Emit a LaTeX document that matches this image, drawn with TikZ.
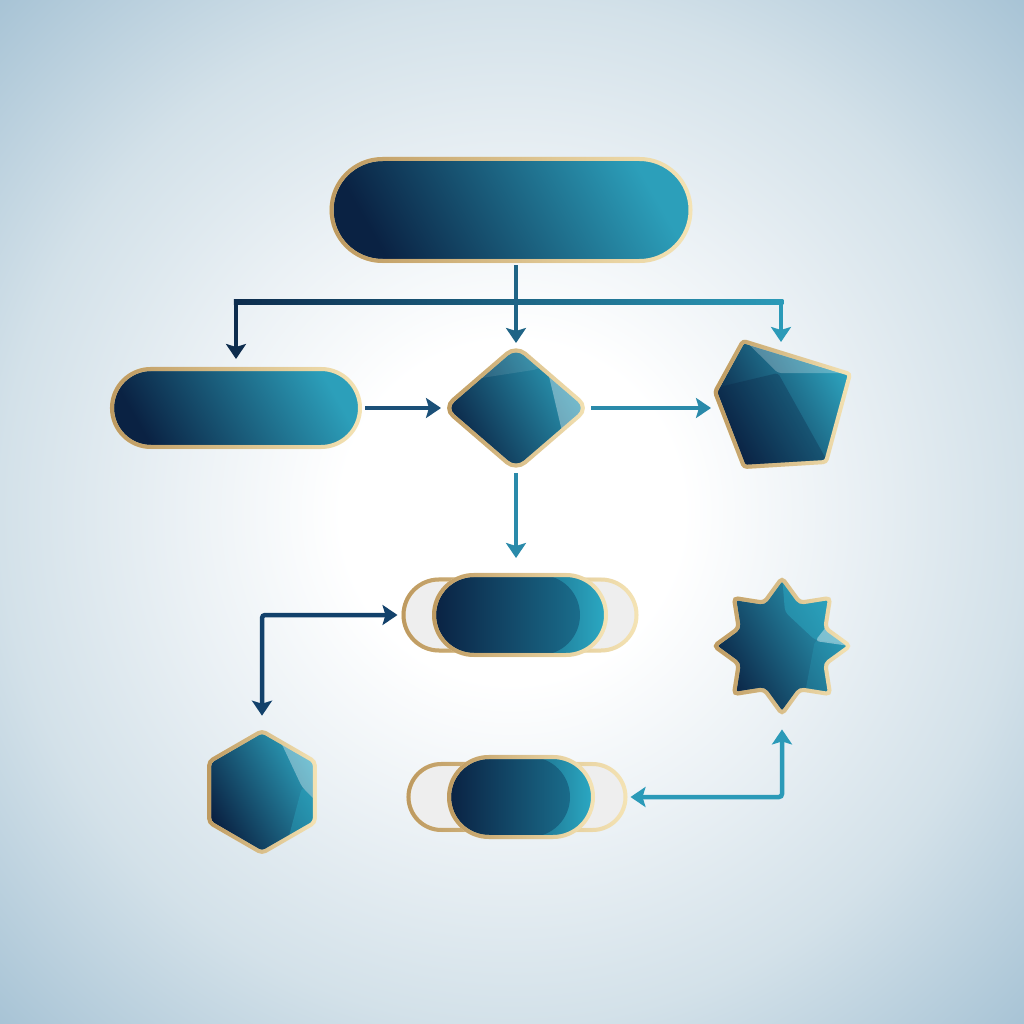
\documentclass[tikz,border=0pt]{standalone}
\usetikzlibrary{shapes.misc,shapes.geometric,arrows.meta,fadings,calc}

\definecolor{navyDeep}{HTML}{0A2243}
\definecolor{tealLight}{HTML}{2C9FBA}
\definecolor{tealBright}{HTML}{2BA9C3}
\definecolor{tealMid}{HTML}{1D7A98}
\definecolor{rimDark}{HTML}{BE9A60}
\definecolor{rimLight}{HTML}{F5E4B5}
\definecolor{pillGrey}{HTML}{EEEEEE}
\definecolor{arrNavy}{HTML}{0D2C4D}
\definecolor{arrDeep}{HTML}{12416B}
\definecolor{arrSteel}{HTML}{1B5078}
\definecolor{arrMid}{HTML}{1F6486}
\definecolor{arrTeal}{HTML}{2A8AAA}
\definecolor{arrAqua}{HTML}{2B9AB8}
\definecolor{bgSoft}{HTML}{EBF1F5}
\definecolor{bgEdge}{HTML}{D3E1E9}
\definecolor{bgCorner}{HTML}{A7C3D5}

\pgfdeclareradialshading{backdropShade}{\pgfpoint{0bp}{0bp}}{color(0bp)=(white); color(170bp)=(white); color(330bp)=(bgSoft); color(510bp)=(bgEdge); color(725bp)=(bgCorner)}

\tikzset{
  rim/.style={draw=rimLight, line width=4pt, postaction={draw=rimDark, line width=4pt, path fading=east}},
  body/.style={rim, left color=navyDeep, right color=tealLight, shading angle=120},
  pill/.style 2 args={rounded rectangle, minimum width=#1, minimum height=#2, inner sep=0pt},
  backpill/.style={rim, fill=pillGrey},
  capped/.style={path picture={\shade[left color=navyDeep, right color=tealMid, rounded corners=40pt] (path picture bounding box.south west) rectangle ([xshift=-#1]path picture bounding box.north east);}},
  facet/.style={fill=white, fill opacity=#1},
  arr/.style={line width=4.5pt, -{Stealth[length=15pt,width=20pt,inset=3pt]}},
  twin/.style={line width=4.5pt, rounded corners=3pt, {Stealth[length=15pt,width=20pt,inset=3pt]}-{Stealth[length=15pt,width=20pt,inset=3pt]}},
}

\begin{document}
\begin{tikzpicture}[x=1pt, y=-1pt]
% backdrop
\useasboundingbox (0,0) rectangle (1024,1024);
\begin{scope}
  \clip (0,0) rectangle (1024,1024);
  \node[inner sep=0pt] (backdrop) at (512,512) {\pgfuseshading{backdropShade}};
\end{scope}

% shapes
\node[body, pill={359pt}{102pt}] (start) at (511,210) {};
\node[body, pill={248pt}{78pt}] (intake) at (236,408) {};
\node[body, diamond, minimum width=146pt, minimum height=126pt, inner sep=0pt, rounded corners=12pt, path picture={
    \fill[facet=.35, shift={(path picture bounding box.center)}] (24,-70) -- (57,70) -- (100,70) -- (100,-70) -- cycle;
    \fill[facet=.1, shift={(path picture bounding box.center)}] (-80,-23) -- (30,-40) -- (24,-70) -- (-80,-70) -- cycle;
  }] (choice) at (516,408) {};
\path[body, rounded corners=3pt, path picture={
    \fill[facet=.25, shift={(path picture bounding box.center)}] (-40,-66) -- (70,-31) -- (-4.5,-31) -- cycle;
    \fill[navyDeep, fill opacity=.3, shift={(path picture bounding box.center)}] (-80,-13) -- (-4.5,-31) -- (47.5,62) -- (-80,72) -- cycle;
  }] (743,341) -- (850,374) -- (826,462) -- (744,467) -- (715,392) -- cycle;
\node[body, star, star points=8, star point ratio=1.45, minimum size=136pt, inner sep=0pt, rounded corners=4pt, path picture={
    \fill[tealBright, fill opacity=.5, shift={(path picture bounding box.center)}] (0,-71) -- (3,-34) -- (33,-6) -- (78,-1) -- (78,-71) -- cycle;
    \fill[tealBright, fill opacity=.25, shift={(path picture bounding box.center)}] (33,-6) -- (78,-1) -- (78,74) -- (18,74) -- cycle;
    \fill[facet=.4, shift={(path picture bounding box.center)}] (33,-5) -- (48,-24) -- (68,0) -- cycle;
  }] (burst) at (782,646) {};
\node[body, regular polygon, regular polygon sides=6, shape border rotate=30, minimum size=122pt, inner sep=0pt, rounded corners=4pt, path picture={
    \fill[facet=.35, shift={(path picture bounding box.center)}] (16,-56) -- (58,-35) -- (58,13) -- (40,-5) -- cycle;
    \fill[tealBright, fill opacity=.4, shift={(path picture bounding box.center)}] (40,-5) -- (58,13) -- (58,38) -- (26,48) -- cycle;
  }] (hexa) at (262,792) {};

\node[backpill, pill={233pt}{71pt}] (midBack) at (520,615) {};
\node[body, pill={172pt}{80pt}, right color=tealBright, capped=26pt] (midPill) at (520,615) {};
\node[backpill, pill={217pt}{66pt}] (endBack) at (517,797) {};
\node[body, pill={144pt}{80pt}, right color=tealBright, capped=23pt] (endPill) at (521,797) {};

% connectors
\coordinate (busY) at (0,302);
\coordinate (pentW) at (711,408);
\coordinate (pentN) at (781,342);
\coordinate (busL) at (intake.north |- busY);
\coordinate (busR) at (pentN |- busY);

\shade[left color=arrNavy, right color=arrAqua] ($(busL)+(-2.25,-2.25)$) rectangle ($(busR)+(2.25,2.25)$);
\draw[arr, arrMid, shorten <=2pt] (start.south -| choice.north) -- (choice.north);
\draw[arr, arrNavy, shorten >=8pt] (busL) -- (intake.north);
\draw[arr, arrAqua] (busR) -- (pentN);
\draw[arr, arrSteel, shorten <=3pt] (intake.east) -- (choice.west);
\draw[arr, arrTeal] (choice.east) -- (pentW);
\draw[arr, arrTeal, shorten >=15pt] (choice.south) -- (choice.south |- midPill.north);
\draw[twin, arrDeep, shorten <=13pt, shorten >=4pt] (hexa.90) |- (midBack.west);
\draw[twin, arrAqua, shorten <=12pt, shorten >=3pt] (burst.south) |- (endBack.east);
\end{tikzpicture}
\end{document}
